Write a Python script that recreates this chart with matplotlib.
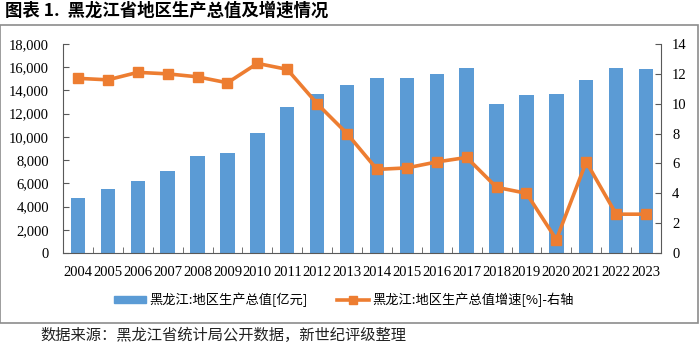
import matplotlib
matplotlib.use("Agg")
import matplotlib.pyplot as plt
from matplotlib.patches import Rectangle
from matplotlib.lines import Line2D
from matplotlib.ticker import FuncFormatter, MultipleLocator
import numpy as np

plt.rcParams["font.family"] = ["Noto Sans CJK SC", "DejaVu Sans"]

years = ["2004", "2005", "2006", "2007", "2008", "2009", "2010", "2011", "2012", "2013",
         "2014", "2015", "2016", "2017", "2018", "2019", "2020", "2021", "2022", "2023"]
gdp = [4750.6, 5513.7, 6216.8, 7104.0, 8314.4, 8587.0, 10368.6, 12582.0, 13691.6, 14454.9,
       15039.4, 15083.7, 15386.1, 15902.7, 12846.5, 13612.7, 13698.5, 14879.2, 15901.0, 15883.9]
growth = [11.7, 11.6, 12.1, 12.0, 11.8, 11.4, 12.7, 12.3, 10.0, 8.0,
          5.6, 5.7, 6.1, 6.4, 4.4, 4.0, 0.9, 6.1, 2.6, 2.6]

BAR_COLOR = "#5B9BD5"
LINE_COLOR = "#ED7D31"
SERIF = "Liberation Serif"

fig = plt.figure(figsize=(7.0, 3.48), dpi=100)

# outer frame around chart + legend
fig.patches.append(Rectangle((0.002, 348 - 322.5), 697.5, 297.5, transform=None,
                             fill=False, edgecolor="#8c8c8c", linewidth=1.2))

ax = fig.add_axes([63 / 700, 95 / 348, (661 - 63) / 700, (253 - 44) / 348])
x = np.arange(len(years))
ax.bar(x, gdp, width=0.48, color=BAR_COLOR, zorder=2)
ax.set_xlim(-0.5, len(years) - 0.5)
ax.set_ylim(0, 18000)
ax.yaxis.set_major_locator(MultipleLocator(2000))
ax.yaxis.set_major_formatter(FuncFormatter(lambda v, p: f"{int(v):,}"))
ax.set_xticks(x)
ax.set_xticklabels(years)
ax.set_xticks(np.arange(-0.5, len(years), 1.0), minor=True)
ax.tick_params(axis="x", which="major", length=0, pad=9)
ax.tick_params(axis="x", which="minor", direction="in", length=4, color="#595959")
ax.tick_params(axis="y", direction="in", length=4, color="#595959", pad=10)
for lab in ax.get_xticklabels() + ax.get_yticklabels():
    lab.set_fontfamily(SERIF)
    lab.set_fontsize(10.5)
for s in ["top", "right"]:
    ax.spines[s].set_visible(False)
for s in ["left", "bottom"]:
    ax.spines[s].set_color("#595959")

ax2 = ax.twinx()
ax2.plot(x, growth, color=LINE_COLOR, linewidth=2.6, marker="s", markersize=7,
         zorder=3)
ax2.set_ylim(0, 14)
ax2.yaxis.set_major_locator(MultipleLocator(2))
ax2.tick_params(axis="y", direction="in", length=4, color="#595959", pad=8)
for lab in ax2.get_yticklabels():
    lab.set_fontfamily(SERIF)
    lab.set_fontsize(10.5)
for s in ["top", "left", "bottom"]:
    ax2.spines[s].set_visible(False)
ax2.spines["right"].set_color("#595959")

handles = [
    Rectangle((0, 0), 1, 1, color=BAR_COLOR),
    Line2D([0], [0], color=LINE_COLOR, linewidth=2.6, marker="s", markersize=6),
]
labels = ["黑龙江:地区生产总值[亿元]", "黑龙江:地区生产总值增速[%]-右轴"]
fig.legend(handles, labels, loc="center", bbox_to_anchor=(344 / 700, 1 - 300 / 348),
           ncol=2, frameon=False, fontsize=9.5, handlelength=2.4, handleheight=0.45,
           handletextpad=0.3, columnspacing=2.2)

fig.text(5 / 700, 1 - 11 / 348, "图表 1.  黑龙江省地区生产总值及增速情况",
         fontsize=12.5, fontweight="bold", va="center", ha="left")
fig.text(40 / 700, 1 - 335 / 348, "数据来源：黑龙江省统计局公开数据，新世纪评级整理",
         fontsize=11, va="center", ha="left", color="#222222")

fig.savefig("out.png", dpi=100)
